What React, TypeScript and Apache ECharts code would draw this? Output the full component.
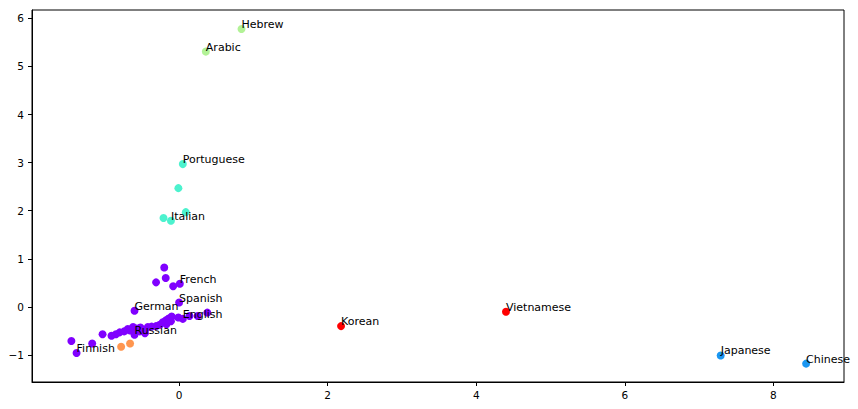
import React, { useEffect, useRef } from "react";
import * as echarts from "echarts";

// [x, y, label]
const purplePoints: [number, number, string][] = [
  [-0.2, 0.82, ""],
  [-0.18, 0.6, ""],
  [-0.31, 0.51, ""],
  [-0.08, 0.43, ""],
  [0.01, 0.48, "French"],
  [0.0, 0.09, "Spanish"],
  [-0.6, -0.08, "German"],
  [0.38, -0.12, ""],
  [0.25, -0.19, ""],
  [0.14, -0.19, ""],
  [-0.01, -0.22, ""],
  [-0.1, -0.2, ""],
  [-0.14, -0.24, ""],
  [-0.18, -0.28, ""],
  [-0.11, -0.3, ""],
  [-0.22, -0.32, ""],
  [-0.17, -0.36, ""],
  [-0.26, -0.37, ""],
  [-0.31, -0.4, ""],
  [-0.37, -0.41, ""],
  [-0.42, -0.42, ""],
  [-0.46, -0.48, ""],
  [-0.52, -0.43, ""],
  [-0.57, -0.45, ""],
  [-0.62, -0.42, ""],
  [-0.66, -0.49, ""],
  [-0.69, -0.46, ""],
  [-0.46, -0.55, ""],
  [-0.53, -0.51, ""],
  [-0.74, -0.51, ""],
  [-0.8, -0.53, ""],
  [-0.85, -0.57, ""],
  [-0.91, -0.6, ""],
  [-1.03, -0.57, ""],
  [-1.17, -0.76, ""],
  [-1.45, -0.71, ""],
  [0.05, -0.25, "English"],
  [-0.6, -0.58, "Russian"],
  [-1.38, -0.96, "Finnish"],
];
const tealPoints: [number, number, string][] = [
  [0.05, 2.97, "Portuguese"],
  [-0.01, 2.47, ""],
  [0.09, 1.97, ""],
  [-0.21, 1.85, ""],
  [-0.11, 1.79, "Italian"],
];
const greenPoints: [number, number, string][] = [
  [0.84, 5.78, "Hebrew"],
  [0.36, 5.31, "Arabic"],
];
const bluePoints: [number, number, string][] = [
  [7.29, -1.01, "Japanese"],
  [8.44, -1.18, "Chinese"],
];
const redPoints: [number, number, string][] = [
  [2.18, -0.4, "Korean"],
  [4.4, -0.1, "Vietnamese"],
];
const orangePoints: [number, number, string][] = [
  [-0.78, -0.83, ""],
  [-0.66, -0.76, ""],
];

const xTicks = [0, 2, 4, 6, 8];
const yTicks = [-1, 0, 1, 2, 3, 4, 5, 6];

const FONT = "DejaVu Sans";

function makeSeries(data: [number, number, string][], color: string) {
  return {
    type: "scatter",
    data,
    symbolSize: 8,
    itemStyle: { color, opacity: 1 },
    label: {
      show: true,
      formatter: (p: any) => p.value[2] || "",
      position: [4, 5],
      align: "left",
      verticalAlign: "bottom",
      color: "#000",
      fontFamily: FONT,
      fontSize: 11,
    },
    labelLayout: { hideOverlap: false },
    emphasis: { disabled: true },
  };
}

const fmt = (v: number) => (v < 0 ? "\u2212" + Math.abs(v) : String(v));

export default function App() {
  const ref = useRef<HTMLDivElement>(null);
  useEffect(() => {
    if (!ref.current) return;
    const chart = echarts.init(ref.current, undefined, { renderer: "svg" });
    chart.setOption({
      animation: false,
      backgroundColor: "#fff",
      grid: {
        left: 32,
        right: 14,
        top: 10,
        bottom: 27,
        show: true,
        borderColor: "#000",
        borderWidth: 1,
        containLabel: false,
      },
      xAxis: {
        type: "value",
        min: -1.98,
        max: 8.95,
        splitLine: { show: false },
        axisLine: { show: true, onZero: false, lineStyle: { color: "#000", width: 1 } },
        axisTick: { show: true, length: 4, customValues: xTicks, lineStyle: { color: "#000" } },
        axisLabel: {
          customValues: xTicks,
          formatter: fmt,
          color: "#000",
          fontFamily: FONT,
          fontSize: 10.5,
          margin: 7,
        },
      },
      yAxis: {
        type: "value",
        min: -1.5625,
        max: 6.175,
        splitLine: { show: false },
        axisLine: { show: true, onZero: false, lineStyle: { color: "#000", width: 1 } },
        axisTick: { show: true, length: 4, customValues: yTicks, lineStyle: { color: "#000" } },
        axisLabel: {
          customValues: yTicks,
          formatter: fmt,
          color: "#000",
          fontFamily: FONT,
          fontSize: 10.5,
          margin: 8,
        },
      },
      series: [
        makeSeries(purplePoints, "#8000ff"),
        makeSeries(bluePoints, "#1a96f2"),
        makeSeries(tealPoints, "#4cf2ce"),
        makeSeries(greenPoints, "#b2f296"),
        makeSeries(orangePoints, "#ff964f"),
        makeSeries(redPoints, "#ff0000"),
      ],
    });
    return () => chart.dispose();
  }, []);
  return (
    <div
      ref={ref}
      style={{ position: "fixed", left: 0, top: 0, width: 858, height: 409 }}
    />
  );
}
